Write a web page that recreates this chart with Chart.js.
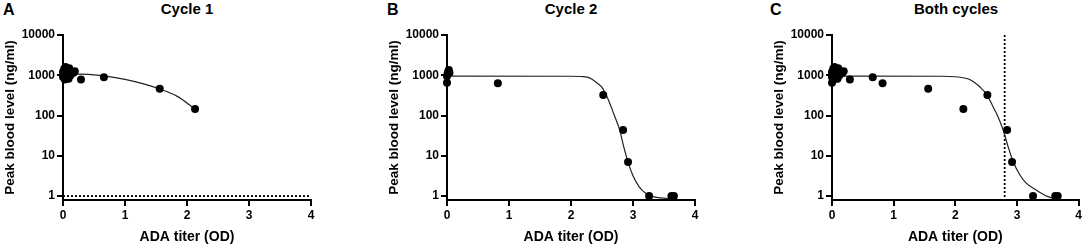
<!DOCTYPE html>
<html><head><meta charset="utf-8">
<script src="https://cdn.jsdelivr.net/npm/chart.js@4/dist/chart.umd.min.js"></script>
<style>
html,body{margin:0;padding:0;background:#fff;}
body{width:1084px;height:246px;overflow:hidden;position:relative;font-family:"Liberation Sans",Arial,sans-serif;color:#000;}
canvas{position:absolute;top:0;}
.letter{position:absolute;top:1px;font-weight:bold;font-size:16px;line-height:normal;}
.title{position:absolute;top:0;font-weight:bold;font-size:15px;line-height:normal;transform:translateX(-50%);white-space:nowrap;}
</style></head>
<body>
<div class="letter" style="left:3px">A</div>
<div class="letter" style="left:387px">B</div>
<div class="letter" style="left:770px">C</div>
<div class="title" style="left:187px">Cycle 1</div>
<div class="title" style="left:571px">Cycle 2</div>
<div class="title" style="left:956px">Both cycles</div>
<canvas id="cA" width="330" height="246" style="left:0px"></canvas>
<canvas id="cB" width="330" height="246" style="left:384px"></canvas>
<canvas id="cC" width="315" height="246" style="left:769px"></canvas>
<script>
// ---- data ----
const xTicks = [0, 1, 2, 3, 4];
const yTicks = [1, 10, 100, 1000, 10000];
const yMin = 0.8, yMax = 10000;
const xMin = 0, xMax = 4;

// Cycle 1: ADA titer (OD) vs peak blood level (ng/ml)
const cycle1X = [0, 0, 0.01, 0.02, 0.03, 0.04, 0.05, 0.06, 0.08, 0.09, 0.10, 0.12, 0.17, 0.19, 0.29, 0.66, 1.56, 2.13];
const cycle1Y = [900, 1200, 1050, 1450, 780, 1600, 1100, 1350, 950, 820, 1500, 1000, 1150, 1250, 780, 890, 460, 145];

// Cycle 2
const cycle2X = [0, 0, 0.01, 0.02, 0.03, 0.04, 0.82, 2.52, 2.84, 2.92, 3.26, 3.62, 3.66];
const cycle2Y = [650, 950, 1100, 1250, 1350, 1150, 630, 325, 44, 7, 1, 1, 1];

// Fitted curves
const fit1X = [0, 0.3, 0.66, 1.0, 1.3, 1.56, 1.85, 2.13];
const fit1Y = [1090, 1070, 970, 790, 610, 455, 295, 145];

const fit2X = [0, 2.0, 2.2, 2.3, 2.4, 2.5, 2.6, 2.7, 2.785, 2.85, 2.92, 3.0, 3.1, 3.2, 3.3, 3.45, 3.62];
const fit2Y = [950, 945, 925, 860, 680, 500, 250, 100, 44, 17, 7, 3.2, 1.7, 1.2, 1.0, 0.9, 0.86];

const fitBothX = [0, 1.8, 2.0, 2.1, 2.2, 2.3, 2.4, 2.51, 2.6, 2.69, 2.77, 2.85, 2.94, 3.05, 3.15, 3.3, 3.45, 3.6];
const fitBothY = [950, 945, 920, 880, 820, 680, 510, 330, 180, 95, 46, 18, 7, 3.3, 2.1, 1.45, 1.05, 0.86];

// Reference lines
const lloq = 1;        // panel A horizontal dotted line
const cutoffOD = 2.8;  // panel C vertical dotted line

// ---- chart construction ----
const FONT = "'Liberation Sans', Arial, sans-serif";
Chart.defaults.font.family = FONT;
Chart.defaults.color = '#000';

const pairs = (xs, ys) => xs.map((x, i) => ({x: x, y: ys[i]}));

function pointsDS(xs, ys) {
  return {data: pairs(xs, ys), showLine: false, pointRadius: 4, pointHoverRadius: 4,
    pointBackgroundColor: '#000', pointBorderColor: '#000', pointBorderWidth: 0, clip: false, order: 0};
}
function curveDS(xs, ys) {
  return {data: pairs(xs, ys), showLine: true, pointRadius: 0, borderColor: '#222', borderWidth: 1.2,
    cubicInterpolationMode: 'monotone', clip: false, order: 1};
}
function dottedDS(pts) {
  return {data: pts, showLine: true, pointRadius: 0, borderColor: '#000', borderWidth: 1.8,
    borderDash: [2, 2], clip: false, order: 2};
}

function makeChart(id, rightPad, datasets) {
  return new Chart(document.getElementById(id), {
    type: 'scatter',
    data: {datasets: datasets},
    options: {
      responsive: false, animation: false, devicePixelRatio: 1,
      layout: {padding: {left: 0, right: rightPad, top: 35, bottom: 0}},
      plugins: {legend: {display: false}, tooltip: {enabled: false}, title: {display: false}},
      scales: {
        x: {
          type: 'linear', min: xMin, max: xMax,
          afterFit: s => { s.height = 46; },
          afterBuildTicks: s => { s.ticks = xTicks.map(v => ({value: v})); },
          ticks: {color: '#000', font: {size: 12, weight: 'bold'}, padding: 2, maxRotation: 0,
            callback: v => String(v)},
          grid: {display: true, drawOnChartArea: false, drawTicks: true, tickLength: 6, color: '#000', lineWidth: 2},
          border: {display: true, color: '#000', width: 2},
          title: {display: true, text: 'ADA titer (OD)', color: '#000',
            font: {size: 14, weight: 'bold'}, padding: 0}
        },
        y: {
          type: 'logarithmic', min: yMin, max: yMax,
          afterFit: s => { s.width = 63; },
          afterBuildTicks: s => { s.ticks = yTicks.map(v => ({value: v})); },
          ticks: {color: '#000', font: {size: 12, weight: 'bold'}, padding: 2,
            callback: v => String(v)},
          grid: {display: true, drawOnChartArea: false, drawTicks: true, tickLength: 6, color: '#000', lineWidth: 2},
          border: {display: true, color: '#000', width: 2},
          title: {display: true, text: 'Peak blood level (ng/ml)', color: '#000',
            font: {size: 13.5, weight: 'bold'}, padding: {top: 2, bottom: 0}}
        }
      }
    }
  });
}

makeChart('cA', 19, [
  pointsDS(cycle1X, cycle1Y),
  curveDS(fit1X, fit1Y),
  dottedDS([{x: xMin, y: lloq}, {x: xMax, y: lloq}])
]);
makeChart('cB', 19, [
  pointsDS(cycle2X, cycle2Y),
  curveDS(fit2X, fit2Y)
]);
makeChart('cC', 4, [
  pointsDS(cycle1X.concat(cycle2X), cycle1Y.concat(cycle2Y)),
  curveDS(fitBothX, fitBothY),
  dottedDS([{x: cutoffOD, y: yMax}, {x: cutoffOD, y: yMin}])
]);
</script>
</body></html>
